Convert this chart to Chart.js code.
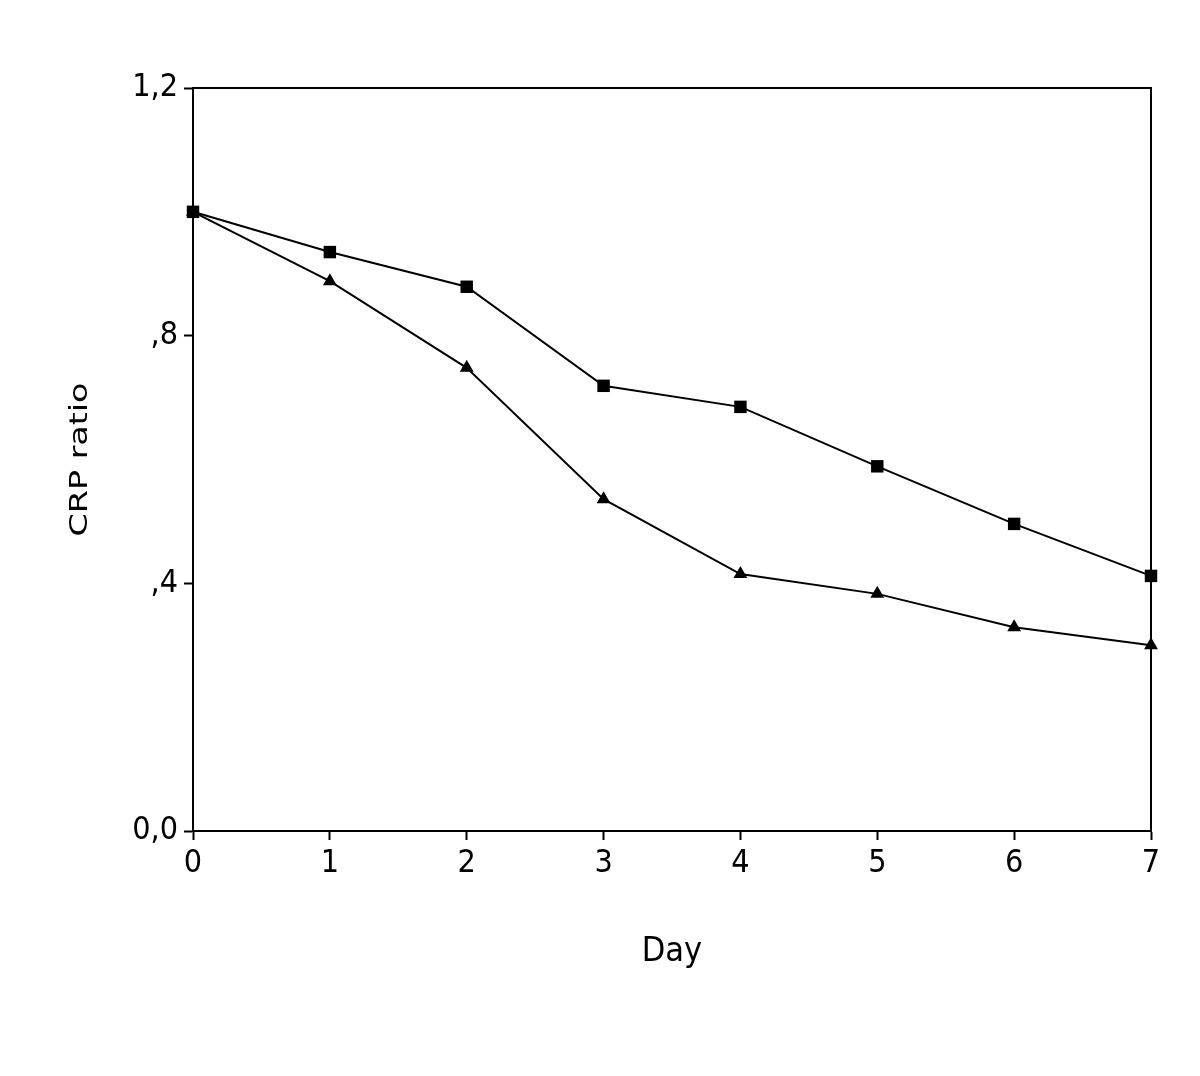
<!DOCTYPE html>
<html>
<head>
<meta charset="utf-8">
<script src="https://cdn.jsdelivr.net/npm/chart.js@4/dist/chart.umd.min.js"></script>
<style>
html,body{margin:0;padding:0;background:#fff;}
#wrap{width:1200px;height:1076px;}
</style>
</head>
<body>
<div id="wrap"><canvas id="c" width="1200" height="1076"></canvas></div>
<script>
const days = [0, 1, 2, 3, 4, 5, 6, 7];
const squareSeries = [1.0, 0.935, 0.879, 0.719, 0.685, 0.589, 0.496, 0.412];
const triangleSeries = [1.0, 0.888, 0.748, 0.536, 0.415, 0.383, 0.329, 0.300];
const yTickValues = [0, 0.4, 0.8, 1.2];
const yTickLabels = ['0,0', ',4', ',8', '1,2'];
const xTitle = 'Day';
const yTitle = 'CRP ratio';

const FONT = '"DejaVu Sans Condensed", "DejaVu Sans", sans-serif';

const framePlugin = {
  id: 'frame',
  afterDatasetsDraw(chart) {
    const {ctx, chartArea: a} = chart;
    ctx.save();
    ctx.strokeStyle = '#000';
    ctx.lineWidth = 2;
    ctx.beginPath();
    ctx.moveTo(a.left, a.top);
    ctx.lineTo(a.right, a.top);
    ctx.lineTo(a.right, a.bottom);
    ctx.stroke();
    ctx.restore();
  }
};

// y axis title: drawn stretched along its length, as in the original
const yTitlePlugin = {
  id: 'yTitle',
  afterDraw(chart) {
    const {ctx, chartArea: a} = chart;
    ctx.save();
    ctx.font = '24px "DejaVu Sans", sans-serif';
    ctx.fillStyle = '#000';
    ctx.textAlign = 'center';
    ctx.textBaseline = 'alphabetic';
    const w = ctx.measureText(yTitle).width;
    const sx = 154 / w;
    ctx.translate(87, (a.top + a.bottom) / 2);
    ctx.rotate(-Math.PI / 2);
    ctx.scale(sx, 1);
    ctx.fillText(yTitle, 0, 0);
    ctx.restore();
  }
};

new Chart(document.getElementById('c'), {
  type: 'line',
  data: {
    datasets: [
      {
        data: days.map((d, i) => ({x: d, y: squareSeries[i]})),
        borderColor: '#000', backgroundColor: '#000', borderWidth: 2,
        pointStyle: 'rect', pointRadius: 8.8, pointBorderWidth: 0,
        pointBackgroundColor: '#000', tension: 0, clip: false
      },
      {
        data: days.map((d, i) => ({x: d, y: triangleSeries[i]})),
        borderColor: '#000', backgroundColor: '#000', borderWidth: 2,
        pointStyle: 'triangle', pointRadius: 8, pointBorderWidth: 0,
        pointBackgroundColor: '#000', tension: 0, clip: false
      }
    ]
  },
  options: {
    responsive: false,
    animation: false,
    devicePixelRatio: 1,
    layout: {padding: {left: 0, top: 88, right: 49, bottom: 0}},
    plugins: {legend: {display: false}, tooltip: {enabled: false}},
    scales: {
      x: {
        type: 'linear', min: 0, max: 7,
        afterFit(s) { s.height = 1076 - 88 - 743; },
        afterBuildTicks(s) { s.ticks = days.map(v => ({value: v})); },
        grid: {drawOnChartArea: false, tickLength: 9, tickWidth: 2, tickColor: '#000'},
        border: {color: '#000', width: 2},
        ticks: {color: '#000', font: {family: FONT, size: 32}, padding: 4, maxRotation: 0,
                callback: v => String(v)},
        title: {display: true, text: xTitle, color: '#000',
                font: {family: FONT, size: 34}, padding: {top: 0, bottom: 103}}
      },
      y: {
        type: 'linear', min: 0, max: 1.2,
        afterFit(s) { s.width = 193; },
        afterBuildTicks(s) { s.ticks = yTickValues.map(v => ({value: v})); },
        grid: {drawOnChartArea: false, tickLength: 9, tickWidth: 2, tickColor: '#000'},
        border: {color: '#000', width: 2},
        ticks: {color: '#000', font: {family: FONT, size: 32}, padding: 6,
                callback: (v) => { const i = yTickValues.findIndex(t => Math.abs(t - v) < 1e-9); return i >= 0 ? yTickLabels[i] : ''; }},
        title: {display: false, text: yTitle}
      }
    }
  },
  plugins: [framePlugin, yTitlePlugin]
});
</script>
</body>
</html>
